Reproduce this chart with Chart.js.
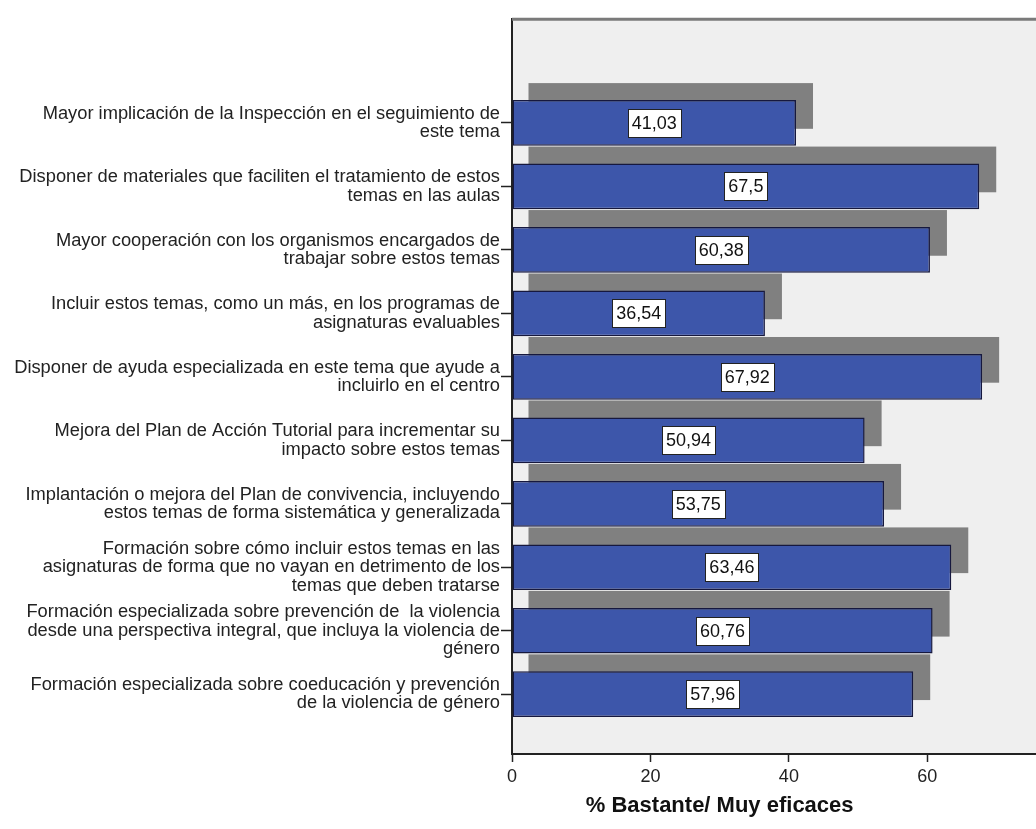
<!DOCTYPE html>
<html><head><meta charset="utf-8">
<script src="https://cdn.jsdelivr.net/npm/chart.js@4/dist/chart.umd.min.js"></script>
<style>html,body{margin:0;padding:0;background:#fff}#wrap{width:1036px;height:829px}</style>
</head><body><div id="wrap"><canvas id="c" width="1036" height="829"></canvas></div>
<script>
const categories = [
  ["Mayor implicación de la Inspección en el seguimiento de", "este tema"],
  ["Disponer de materiales que faciliten el tratamiento de estos", "temas en las aulas"],
  ["Mayor cooperación con los organismos encargados de", "trabajar sobre estos temas"],
  ["Incluir estos temas, como un más, en los programas de", "asignaturas evaluables"],
  ["Disponer de ayuda especializada en este tema que ayude a", "incluirlo en el centro"],
  ["Mejora del Plan de Acción Tutorial para incrementar su", "impacto sobre estos temas"],
  ["Implantación o mejora del Plan de convivencia, incluyendo", "estos temas de forma sistemática y generalizada"],
  ["Formación sobre cómo incluir estos temas en las", "asignaturas de forma que no vayan en detrimento de los", "temas que deben tratarse"],
  ["Formación especializada sobre prevención de  la violencia", "desde una perspectiva integral, que incluya la violencia de", "género"],
  ["Formación especializada sobre coeducación y prevención", "de la violencia de género"]
];
const values = [41.03, 67.5, 60.38, 36.54, 67.92, 50.94, 53.75, 63.46, 60.76, 57.96];
const xTickValues = [0, 20, 40, 60];
const axisTitle = "% Bastante/ Muy eficaces";

const FONT = '"Liberation Sans", Arial, sans-serif';
const points = values.map((v, i) => ({ x: v, y: i }));
const fmt = v => String(v).replace('.', ',');

const bgPlugin = {
  id: 'bg',
  beforeDraw(chart) {
    const { ctx, chartArea: a } = chart;
    ctx.save();
    ctx.fillStyle = '#EFEFEF';
    ctx.fillRect(a.left, a.top, a.right - a.left, a.bottom - a.top);
    ctx.restore();
  }
};

const shadowPlugin = {
  id: 'shadow',
  beforeDatasetsDraw(chart) {
    const { ctx, chartArea: a } = chart;
    const meta = chart.getDatasetMeta(0);
    ctx.save();
    ctx.beginPath();
    ctx.rect(a.left, a.top, a.right - a.left, a.bottom - a.top);
    ctx.clip();
    ctx.fillStyle = '#808080';
    meta.data.forEach(el => {
      const p = el.getProps(['x', 'y', 'base', 'height'], true);
      ctx.fillRect(p.base + 16, p.y - p.height / 2 - 17, p.x - p.base + 1, p.height);
    });
    ctx.restore();
  }
};

const labelPlugin = {
  id: 'vlabels',
  afterDatasetsDraw(chart) {
    const { ctx } = chart;
    const meta = chart.getDatasetMeta(0);
    ctx.save();
    ctx.font = '18px ' + FONT;
    ctx.textAlign = 'center';
    ctx.textBaseline = 'middle';
    meta.data.forEach((el, i) => {
      const p = el.getProps(['x', 'y', 'base'], true);
      const cx = (p.x + p.base) / 2;
      const t = fmt(values[i]);
      const w = Math.round(ctx.measureText(t).width + 8);
      const h = 28;
      const bx = Math.round(cx - w / 2) + 0.5, by = Math.round(p.y - h / 2) + 0.5;
      ctx.fillStyle = '#fff';
      ctx.fillRect(bx, by, w, h);
      ctx.strokeStyle = '#222';
      ctx.lineWidth = 1;
      ctx.strokeRect(bx, by, w, h);
      ctx.fillStyle = '#111';
      ctx.fillText(t, cx, p.y + 1);
    });
    ctx.restore();
  }
};

const framePlugin = {
  id: 'frame',
  afterDraw(chart) {
    const { ctx, chartArea: a, scales } = chart;
    ctx.save();
    ctx.strokeStyle = '#7a7a7a';
    ctx.lineWidth = 3;
    ctx.beginPath();
    ctx.moveTo(a.left, a.top);
    ctx.lineTo(a.right, a.top);
    ctx.stroke();
    const mid = (xTickValues[0] + xTickValues[xTickValues.length - 1]) / 2;
    ctx.fillStyle = '#111';
    ctx.font = 'bold 22px ' + FONT;
    ctx.textAlign = 'center';
    ctx.textBaseline = 'middle';
    ctx.fillText(axisTitle, scales.x.getPixelForValue(mid), 806);
    ctx.restore();
  }
};

new Chart(document.getElementById('c'), {
  type: 'bar',
  data: {
    datasets: [{
      data: points,
      backgroundColor: '#3D56AA',
      borderColor: '#16183E',
      borderWidth: 1.5,
      borderSkipped: false,
      categoryPercentage: 1,
      barPercentage: 0.72
    }]
  },
  options: {
    indexAxis: 'y',
    responsive: false,
    animation: false,
    devicePixelRatio: 1,
    layout: { padding: { top: 17, right: 0, left: 0, bottom: 0 } },
    plugins: { legend: { display: false }, tooltip: { enabled: false }, title: { display: false } },
    scales: {
      y: {
        type: 'linear',
        offset: false,
        reverse: true,
        min: -1.633,
        max: 9.942,
        afterBuildTicks(scale) { scale.ticks = categories.map((c, i) => ({ value: i })); },
        afterFit(scale) { scale.width = 512; },
        ticks: {
          autoSkip: false,
          padding: 1,
          color: '#222',
          font: { family: FONT, size: 18.3, lineHeight: 1.0 },
          callback: (v) => categories[v]
        },
        grid: { offset: false, drawOnChartArea: false, drawTicks: true, tickLength: 11, color: '#222', tickWidth: 1.5 },
        border: { display: true, color: '#222', width: 2 }
      },
      x: {
        type: 'linear',
        offset: false,
        min: 0,
        max: 75.7,
        afterBuildTicks(scale) { scale.ticks = xTickValues.map(v => ({ value: v })); },
        afterFit(scale) { scale.height = 75; },
        ticks: {
          autoSkip: false,
          padding: 4,
          color: '#222',
          font: { family: FONT, size: 18 },
          maxRotation: 0
        },
        grid: { offset: false, drawOnChartArea: false, drawTicks: true, tickLength: 8, color: '#222', tickWidth: 1.5 },
        border: { display: true, color: '#222', width: 2 }
      }
    }
  },
  plugins: [bgPlugin, shadowPlugin, labelPlugin, framePlugin]
});
</script>
</body></html>
